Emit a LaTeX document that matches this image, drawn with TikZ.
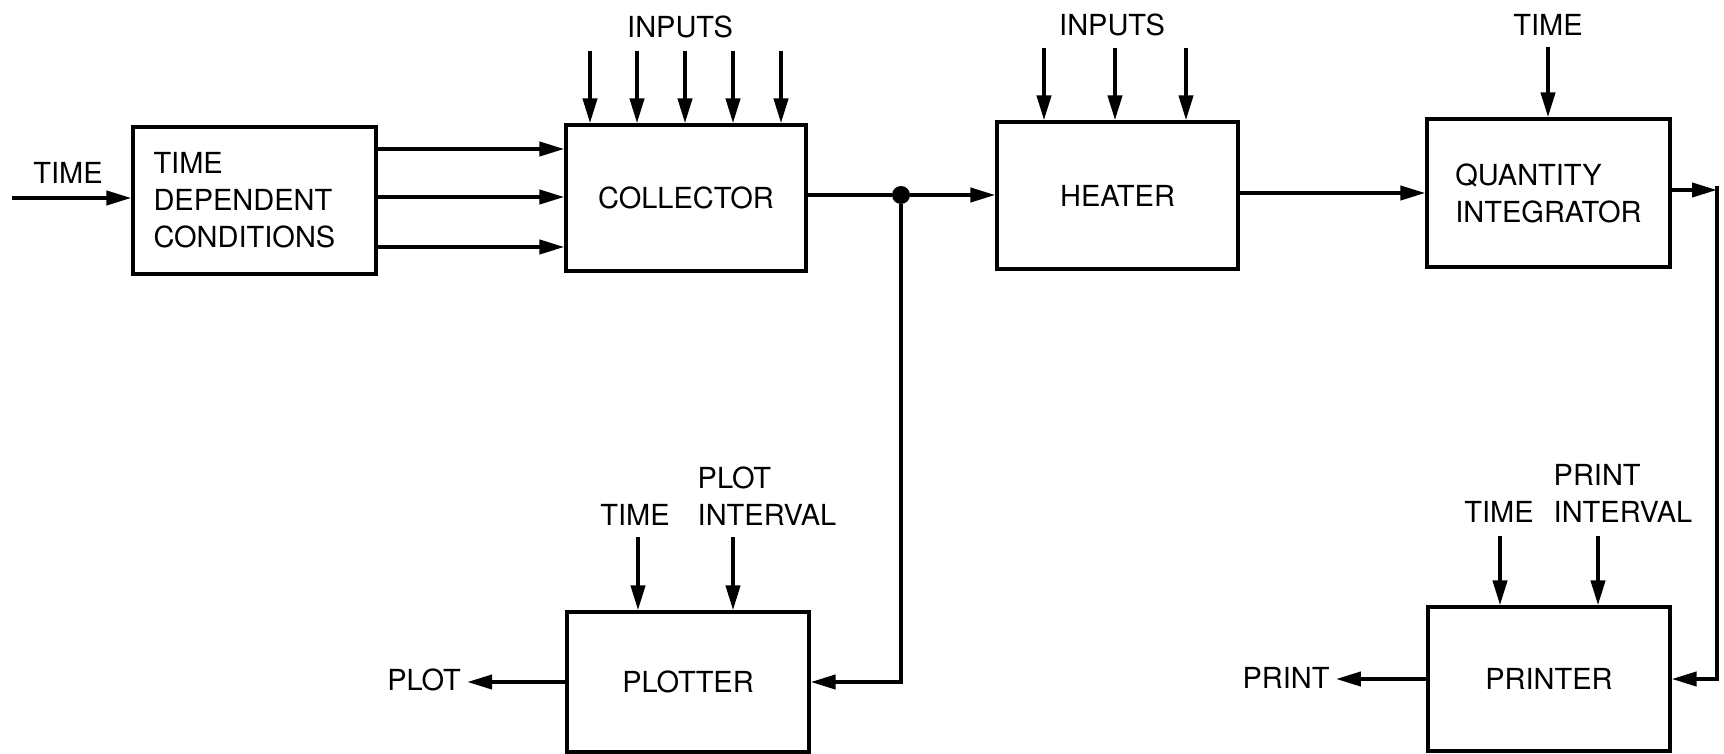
\documentclass[tikz,border=0pt]{standalone}
\usepackage{fontspec}
\setmainfont{TeX Gyre Heros}
\usetikzlibrary{arrows.meta}
\begin{document}
\begin{tikzpicture}[x=0.5pt,y=-0.5pt,
  every node/.style={font=\fontsize{14.5pt}{18.5pt}\selectfont},
  blk/.style={draw, line width=1.6pt, inner sep=0pt},
  lbl/.style={inner sep=3pt},
  arr/.style={line width=2pt, -{Triangle[length=12.5pt,width=7pt]}},
  ln/.style={line width=2pt},
]
\path[fill=white,use as bounding box] (0,0) rectangle (1724,754);

% blocks
\node[blk, minimum width=121.5pt, minimum height=73.5pt, align=left, text width=101pt] (tdc) at (254.5,200.5) {TIME\\DEPENDENT\\CONDITIONS};
\node[blk, minimum width=120pt, minimum height=73pt] (col) at (686,198) {COLLECTOR};
\node[blk, minimum width=120.5pt, minimum height=73.5pt] (heat) at (1117.5,195.5) {HEATER};
\node[blk, minimum width=121.5pt, minimum height=74pt, align=left] (qi) at (1548.5,193) {QUANTITY\\INTEGRATOR};
\node[blk, minimum width=121pt, minimum height=70pt] (plt) at (688,682) {PLOTTER};
\node[blk, minimum width=121pt, minimum height=72pt] (prn) at (1549,679) {PRINTER};

% time into TDC
\node[lbl] (tinl) at (68,173) {TIME};
\coordinate (tin) at (12,198);
\draw[arr] (tin) -- (tin -| tdc.west);

% TDC to collector
\foreach \yy [count=\i] in {149,197,247} {
  \coordinate (t\i) at (0,\yy);
  \draw[arr] (t\i -| tdc.east) -- (t\i -| col.west);
}

% collector inputs
\node[lbl] (cin) at (680,27) {INPUTS};
\foreach \xx [count=\i] in {590,637,685,733,781} {
  \coordinate (ci\i) at (\xx,51);
  \draw[arr] (ci\i) -- (ci\i |- col.north);
}

% heater inputs
\node[lbl] (hin) at (1112,25) {INPUTS};
\foreach \xx [count=\i] in {1044,1115,1186} {
  \coordinate (hi\i) at (\xx,48);
  \draw[arr] (hi\i) -- (hi\i |- heat.north);
}

% QI time
\node[lbl] (qt) at (1548,25) {TIME};
\coordinate (qt0) at (1548,47);
\draw[arr] (qt0) -- (qt0 |- qi.north);

% collector -> heater with junction
\node[circle, fill, inner sep=0pt, minimum size=9pt] (dot) at (901,195) {};
\draw[ln] (col.east |- dot) -- (dot);
\draw[arr] (dot) -- (dot -| heat.west);
\draw[arr] (dot) |- (plt.east);

% heater -> QI
\draw[arr] (heat.east |- qi.west) -- (qi.west);

% QI -> printer
\coordinate (qc) at (1717,190);
\coordinate (qc2) at (1717,186);
\draw[arr] (qi.east |- qc) -- (qc);
\draw[arr] (qc2) |- (prn.east);

% plotter
\node[lbl] (plotl) at (424,680) {PLOT};
\draw[arr] (plt.west) -- (plt.west -| plotl.east);
\node[lbl] (pt) at (635,515) {TIME};
\node[lbl, align=left] (pint) at (767,496) {PLOT\\INTERVAL};
\coordinate (p1) at (638,537);
\coordinate (p2) at (733,537);
\draw[arr] (p1) -- (p1 |- plt.north);
\draw[arr] (p2) -- (p2 |- plt.north);

% printer
\node[lbl] (prl) at (1286,678) {PRINT};
\draw[arr] (prn.west) -- (prn.west -| prl.east);
\node[lbl] (prt) at (1499,512) {TIME};
\node[lbl, align=left] (prin) at (1623,493.5) {PRINT\\INTERVAL};
\coordinate (r1) at (1500,536);
\coordinate (r2) at (1598,536);
\draw[arr] (r1) -- (r1 |- prn.north);
\draw[arr] (r2) -- (r2 |- prn.north);
\end{tikzpicture}
\end{document}
